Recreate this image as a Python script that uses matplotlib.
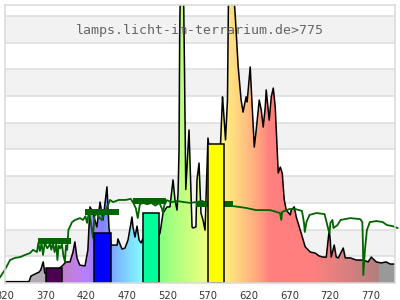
import numpy as np
import matplotlib
matplotlib.use("Agg")
import matplotlib.pyplot as plt
from matplotlib.patches import Polygon

# ---- data ----
title = "lamps.licht-im-terrarium.de>775"
xticks = [320, 370, 420, 470, 520, 570, 620, 670, 720, 770]

spec_nm = [321, 349.5, 352, 354.5, 362, 364, 367, 369, 375, 385, 391.4, 395, 400, 403.7, 406,
           408.6, 412, 418.5, 422, 424.6, 428, 433, 437, 440.6, 445.5, 448, 450.5, 458, 459,
           464, 467.7, 471.4, 476.3, 477.5, 480, 482.5, 485, 487.4, 495, 505, 508.3, 510.8,
           514.5, 519.4, 523, 526.8, 529.2, 531.7, 533, 534.2, 535, 536, 539.5, 540.9, 542.5,
           546.5, 550.2, 551.4, 555, 556.3, 558.8, 561.2, 563.7, 566.2, 569.8, 575, 585,
           587.7, 588.9, 591.4, 593.8, 595, 596, 598, 600, 603.2, 607, 610.6, 613, 616.7, 618,
           621.8, 623, 626.8, 629.2, 632.9, 635.4, 637.8, 640.3, 641.5, 645.2, 647.7, 650.2,
           652.6, 656.3, 658.8, 661.2, 663.7, 666.2, 671.1, 672.3, 676, 678.5, 683.4, 689.5,
           695.7, 701.8, 706.7, 711.7, 715.4, 719, 720.3, 721.5, 725.2, 727.7, 730.2, 736.3,
           738.8, 745, 752.3, 761, 767, 770.8, 777, 783, 789, 794, 800]
spec_val = [0.5, 0.5, 2.6, 3.0, 4.1, 4.9, 7.9, 3.7, 3.5, 5.0, 6.7, 7.9, 7.9, 11.6, 15.4,
            9.4, 6.7, 6.4, 12.4, 28.5, 26.6, 21.0, 30.3, 23.6, 36.0, 20.6, 14.2, 14.2, 16.5,
            12.7, 13.1, 16.1, 24.7, 21.0, 17.2, 21.3, 16.1, 15.0, 20.0, 25.0, 17.2, 18.7,
            26.2, 28.5, 28.5, 38.6, 31.1, 27.3, 33.7, 50.0, 93.0, 115, 115, 80.5, 35.0,
            57.3, 21.0, 20.6, 21.0, 38.6, 44.9, 26.2, 23.6, 19.8, 54.3, 40.0, 50.0,
            69.7, 64.8, 53.6, 68.5, 106, 115, 108, 115, 101, 80.9, 68.5, 64.0, 69.7, 67.8,
            80.9, 73.4, 50.9, 57.3, 68.5, 64.8, 58.4, 65.9, 72.3, 61.0, 69.7, 73.0,
            65.9, 41.2, 43.4, 41.2, 31.1, 27.3, 25.5, 27.3, 28.5, 24.7, 19.8, 13.5,
            11.6, 11.2, 10.1, 9.7, 9.7, 19.8, 16.1, 9.7, 14.2, 9.7, 9.4, 13.1,
            9.4, 9.4, 8.6, 8.6, 7.9, 9.7, 7.9, 7.5, 7.9, 7.1, 7.1]

ref_nm = [314, 320, 326.2, 332.3, 338.5, 344.6, 350.8, 354.5, 359.4, 361, 363, 365, 366.8, 369,
          372, 375.4, 377, 379, 381, 383, 384.5, 386, 388, 390, 392, 393.8, 395, 396.5, 398,
          402.5, 406.2, 412.3, 416, 419, 421, 423, 425, 428.3, 430, 433, 436, 439.4, 442, 445,
          449.2, 453, 460, 468.5, 474.7, 478, 481, 483.4, 486, 490, 495, 500, 505, 510, 513,
          514.5, 516, 519, 525, 532, 540, 548, 555, 563, 570, 580, 590, 600, 608, 616.7, 629,
          646.3, 658.5, 660, 661, 670, 677, 685.5, 688, 689, 691, 694.8, 703.4, 713.3, 718.2,
          719.4, 720.5, 723, 724.3, 729.2, 733, 745, 757.3, 759.8, 760.5, 761, 763, 765.4,
          769, 777.5, 785, 790, 797, 803]
ref_val = [2.2, 5.0, 8.6, 9.4, 9.7, 10.5, 11.2, 12.4, 11.6, 15.0, 12.0, 15.0, 10.5, 15.0,
           13.0, 14.5, 12.5, 15.0, 11.6, 14.5, 8.6, 14.0, 13.0, 14.5, 10.0, 7.9, 14.0, 12.4, 19.8,
           22.8, 23.6, 24.3, 23.6, 25.0, 22.5, 26.0, 24.0, 16.9, 25.0, 26.0, 24.5, 23.6, 26.0, 28.0,
           31.1, 30.3, 31.1, 31.1, 31.5, 30.0, 28.0, 24.3, 29.5, 30.0, 29.5, 30.0, 29.0, 30.0, 28.0,
           26.2, 29.0, 31.0, 30.3, 30.7, 30.3, 30.0, 30.3, 30.7, 29.5, 29.0, 29.0, 28.8, 28.5, 28.1, 27.3,
           27.3, 26.2, 23.6, 26.6, 27.7, 27.7, 27.0, 22.5, 19.1, 22.8, 25.5, 26.2, 25.8, 19.8,
           18.7, 22.5, 23.6, 20.6, 21.7, 23.6, 24.3, 23.9, 22.8, 14.9, 3.0, 12.4, 19.8,
           22.8, 23.2, 22.8, 21.7, 21.3, 20.6]

ref_block_start = [360.6, 418.5, 477.5, 555]
ref_block_end = [401.2, 460.3, 518.2, 600]
ref_block_val = [15.7, 26.6, 30.7, 29.4]

led_start = [370, 430, 490, 570]
led_end = [390, 450, 510, 590]
led_val = [5.7, 18.7, 26.2, 52.1]
led_colors = ["#4b0052", "#0000ff", "#00ff99", "#ffff00"]

# ---- colour helper for the gradient (style) ----
def wl_rgb(w):
    if w < 380:
        return (0.70, 0.67, 0.71)
    if w > 780:
        return (0.60, 0.60, 0.60)
    if w < 440:
        r, g, b = -(w - 440) / 60, 0.0, 1.0
    elif w < 490:
        r, g, b = 0.0, (w - 440) / 50, 1.0
    elif w < 510:
        r, g, b = 0.0, 1.0, -(w - 510) / 20
    elif w < 580:
        r, g, b = (w - 510) / 70, 1.0, 0.0
    elif w < 645:
        r, g, b = 1.0, -(w - 645) / 65, 0.0
    else:
        r, g, b = 1.0, 0.0, 0.0
    if w < 420:
        f = 0.3 + 0.7 * (w - 380) / 40
    elif w > 700:
        f = 0.3 + 0.7 * (780 - w) / 80
    else:
        f = 1.0
    c = [(v * f) ** 0.8 if v > 0 else 0.0 for v in (r, g, b)]
    return tuple(0.5 + 0.5 * v for v in c)

YTOP = 104.1
fig = plt.figure(figsize=(4, 3), dpi=100)
ax = fig.add_axes([5 / 400, 17 / 300, 390 / 400, 278 / 300])
ax.set_xlim(320, 800)
ax.set_ylim(0, YTOP)

# alternating background bands + grid
for k in range(11):
    lo, hi = k * 10, min((k + 1) * 10, YTOP)
    if k % 2 == 1:
        ax.axhspan(lo, hi, color="#f2f2f2", zorder=0, lw=0)
for k in range(1, 11):
    ax.axhline(k * 10, color="#dddddd", lw=1.1, zorder=0.5)

# gradient fill under spectrum
wls = np.arange(320, 801, 1.0)
grad = np.array([[wl_rgb(w) for w in wls]])
im = ax.imshow(grad, extent=(320, 800, 0, YTOP), aspect="auto", origin="lower",
               interpolation="bilinear", zorder=1)
verts = np.column_stack([[spec_nm[0]] + spec_nm + [spec_nm[-1]],
                         [0] + spec_val + [0]])
patch = Polygon(verts, closed=True, facecolor="none", edgecolor="none",
                transform=ax.transData)
ax.add_patch(patch)
im.set_clip_path(patch)

ax.plot(spec_nm, spec_val, color="black", lw=1.1, zorder=2)

# reference (green) curve and its blocks
ax.plot(ref_nm, ref_val, color="#006400", lw=1.3, zorder=3, clip_on=False)
ax.hlines(ref_block_val, ref_block_start, ref_block_end, color="#006400", lw=4.3,
          zorder=3)

# LED bars
for s, e, v, c in zip(led_start, led_end, led_val, led_colors):
    ax.bar(s, v, width=e - s, align="edge", color=c, edgecolor="black", lw=1.1, zorder=4)

ax.text(0.501, 94.4, title, ha="center", va="center",
        family="DejaVu Sans Mono", fontsize=9.5, color="#666666", zorder=5,
        transform=ax.get_xaxis_transform() if False else
        matplotlib.transforms.blended_transform_factory(ax.transAxes, ax.transData))

ax.set_xticks(xticks)
ax.set_xticklabels([str(t) for t in xticks])
ax.set_yticks([])
ax.tick_params(axis="x", length=0, pad=6, labelsize=7.2, labelcolor="#333333")
for sp in ax.spines.values():
    sp.set_color("#d9d9d9")
    sp.set_linewidth(1.1)
    sp.set_zorder(6)

fig.savefig("out.png", dpi=100)
